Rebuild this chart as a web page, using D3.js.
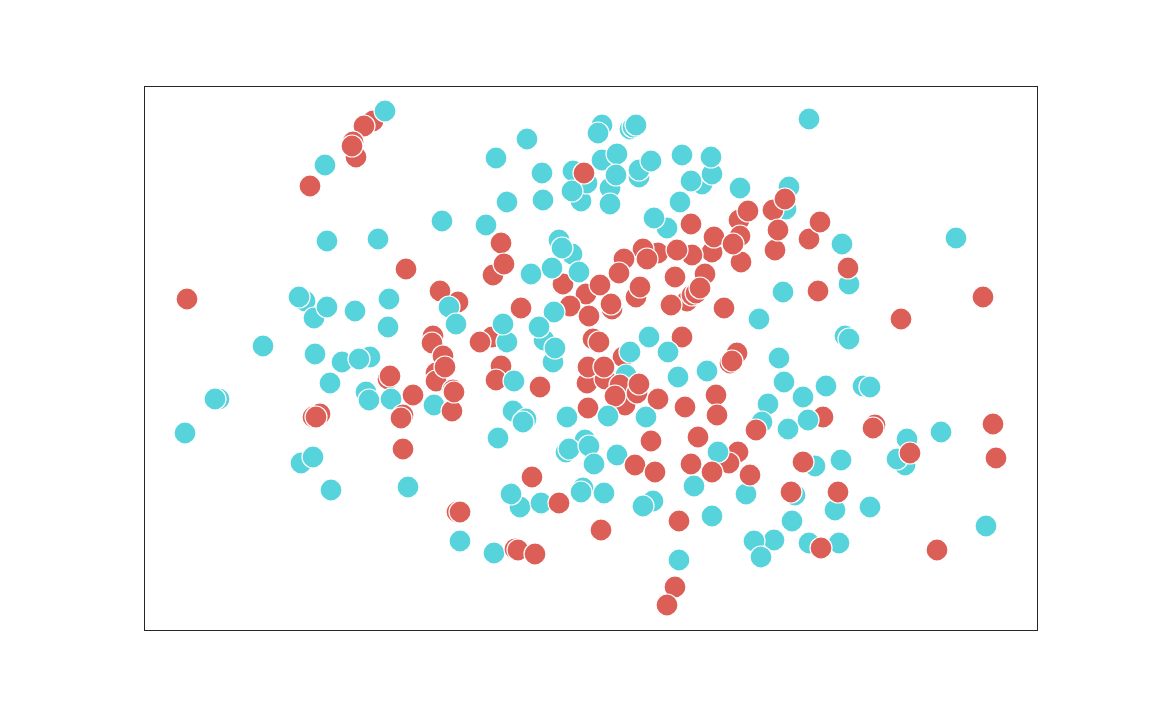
<!DOCTYPE html>
<html>
<head>
<meta charset="utf-8">
<script src="https://cdn.jsdelivr.net/npm/d3@7"></script>
<style>
  body { margin: 0; background: #fff; }
</style>
</head>
<body>
<div class="ScatterGraph"></div>
<script>
// in drawing order (later points sit on top)
const xValues = [
  22.9, 24.1, 22.0, 21.2, 20.9, 20.8, 18.1, 16.6, 29.8, 18.3,
  23.4, 26.2, 4.3, 16.1, 17.0, 15.5, 18.3, 21.1, 24.5, 24.4,
  11.9, 31.4, 29.6, 30.5, 31.2, 28.9, 28.8, 29.9, 29.2, 29.2,
  30.1, 30.9, 29.0, 30.8, 31.0, 17.1, 19.8, 22.6, 21.5, 18.6,
  24.4, 24.6, 26.9, 22.2, 22.5, 24.7, 7.5, 7.1, 4.1, 17.6,
  16.9, 17.2, 25.9, 25.7, 25.9, 15.7, 16.9, 18.7, 26.4, 31.3,
  31.6, 31.6, 45.8, 45.4, 48.6, 48.9, 49.2, 38.3, 35.2, 39.8,
  43.7, 44.3, 42.9, 42.8, 44.0, 39.9, 36.3, 45.8, 46.6, 47.3,
  47.2, 46.6, 49.5, 49.5, 50.7, 53.8, 55.8, 56.8, 56.7, 54.7,
  53.6, 59.6, 52.3, 51.0, 54.7, 59.5, 60.4, 59.7, 59.6, 56.8,
  57.0, 58.9, 54.8, 51.4, 49.9, 50.3, 53.3, 48.0, 47.5, 53.1,
  56.1, 54.3, 54.8, 55.2, 55.6, 52.7, 58.0, 61.5, 49.2, 49.6,
  46.8, 46.7, 41.9, 44.2, 45.6, 42.6, 44.5, 37.7, 34.2, 34.9,
  35.7, 36.0, 41.5, 42.8, 41.8, 40.8, 43.5, 38.7, 41.0, 34.8,
  33.6, 36.3, 35.9, 40.0, 39.5, 40.9, 41.1, 35.7, 35.2, 37.0,
  39.6, 44.9, 45.5, 47.9, 48.6, 50.5, 53.8, 52.4, 53.4, 56.3,
  59.3, 58.6, 58.8, 48.2, 44.3, 46.1, 44.4, 46.0, 48.1, 47.6,
  49.3, 49.5, 47.1, 51.4, 54.1, 57.2, 57.3, 44.4, 46.4, 50.2,
  42.3, 36.9, 38.2, 37.9, 35.4, 50.7, 55.4, 54.7, 59.4, 58.5,
  57.4, 56.8, 60.2, 62.4, 61.8, 61.2, 64.4, 67.9, 66.4, 73.1,
  72.9, 76.3, 79.7, 84.9, 85.2, 76.1, 75.3, 76.6, 67.1, 65.9,
  69.7, 60.6, 65.1, 64.7, 69.1, 69.4, 72.6, 64.8, 84.2, 79.3,
  63.0, 61.0, 61.7, 66.5, 69.5, 67.7, 44.1, 42.2, 42.5, 44.5,
  45.0, 47.3, 49.1, 51.1, 38.8, 37.6, 36.7, 39.7, 41.5, 43.9,
  43.7, 46.0, 55.0, 50.9, 49.9, 53.5, 56.8, 45.7, 35.0, 37.1,
  37.4, 39.1, 53.5, 53.1, 52.3, 66.5, 64.5, 64.2, 62.9, 64.1,
  63.1, 63.4, 66.5, 67.6, 69.8, 70.5, 70.4, 63.9, 67.4, 81.2,
  83.9, 75.7, 70.1, 70.5, 63.5, 64.0, 68.2, 65.9, 71.9, 72.6
];
const yValues = [
  50.9, 51.9, 50.4, 47.3, 48.8, 48.4, 46.5, 44.4, 40.9, 38.9,
  39.1, 36.1, 33.1, 32.9, 31.2, 33.3, 32.3, 31.9, 33.1, 30.3,
  28.4, 32.8, 33.9, 32.3, 30.6, 29.4, 28.7, 27.4, 25.7, 24.9,
  26.3, 24.0, 22.5, 21.9, 23.8, 27.6, 26.8, 27.3, 27.1, 24.7,
  25.1, 25.4, 23.5, 23.8, 23.0, 23.1, 23.1, 23.1, 19.7, 21.6,
  21.3, 21.3, 21.5, 21.2, 18.1, 16.7, 17.3, 14.0, 14.3, 11.8,
  11.8, 8.9, 50.5, 49.7, 50.1, 50.3, 50.5, 49.1, 47.2, 45.7,
  42.9, 44.7, 45.9, 43.9, 45.7, 43.0, 42.8, 47.0, 44.2, 47.6,
  45.5, 42.6, 45.3, 46.0, 46.9, 47.5, 44.6, 45.6, 47.3, 44.9,
  42.8, 44.2, 40.2, 41.2, 40.6, 41.0, 41.9, 36.8, 39.4, 37.8,
  39.3, 38.6, 37.5, 37.7, 38.1, 37.1, 38.0, 37.1, 35.7, 35.3,
  35.6, 32.9, 33.5, 33.7, 34.2, 32.5, 32.2, 31.1, 33.3, 34.3,
  32.1, 32.6, 34.6, 33.6, 34.5, 32.4, 31.4, 32.2, 40.5, 35.5,
  38.7, 36.6, 39.0, 37.6, 38.2, 36.2, 35.8, 35.6, 31.8, 29.3,
  28.8, 28.8, 30.6, 29.0, 30.3, 26.8, 28.2, 26.4, 25.0, 24.9,
  24.3, 29.1, 28.8, 27.3, 27.8, 29.3, 29.3, 27.8, 25.3, 25.9,
  27.7, 26.7, 26.9, 25.5, 24.7, 25.1, 26.3, 26.3, 22.5, 24.5,
  23.7, 24.6, 23.4, 23.1, 22.3, 23.5, 21.5, 22.2, 21.4, 21.3,
  21.3, 21.9, 21.1, 20.8, 19.2, 18.9, 19.3, 16.6, 17.8, 16.7,
  17.8, 15.8, 13.6, 22.6, 20.8, 20.0, 20.1, 21.3, 21.0, 20.5,
  20.2, 19.1, 19.8, 20.6, 17.2, 16.5, 17.1, 17.7, 16.4, 16.8,
  17.0, 15.5, 13.5, 13.8, 12.0, 13.8, 12.3, 10.9, 10.4, 8.0,
  9.0, 8.9, 7.3, 8.7, 8.7, 8.2, 19.0, 17.8, 18.1, 18.4,
  16.6, 17.5, 16.5, 15.8, 15.3, 12.3, 13.6, 12.7, 12.7, 14.2,
  13.8, 13.7, 14.4, 12.9, 12.4, 10.9, 11.4, 10.0, 7.7, 8.1,
  8.0, 7.6, 7.0, 4.3, 2.5, 51.1, 44.3, 42.1, 42.0, 43.1,
  38.0, 40.0, 39.1, 40.8, 38.6, 34.6, 36.2, 33.8, 33.9, 39.2,
  33.3, 31.1, 29.4, 29.1, 27.2, 24.8, 24.4, 23.3, 24.4, 24.3
];
const hueValues = [
  0, 1, 0, 0, 0, 0, 1, 0, 1, 1,
  1, 0, 0, 1, 1, 1, 1, 1, 1, 1,
  1, 0, 0, 1, 1, 0, 0, 0, 0, 0,
  0, 0, 1, 0, 0, 1, 1, 1, 1, 1,
  0, 0, 0, 1, 1, 1, 1, 1, 1, 0,
  0, 0, 0, 0, 0, 1, 1, 1, 1, 0,
  0, 1, 1, 1, 1, 1, 1, 1, 1, 1,
  1, 1, 1, 1, 0, 1, 1, 1, 1, 1,
  1, 1, 1, 1, 1, 1, 1, 1, 1, 1,
  1, 1, 1, 1, 0, 0, 0, 0, 0, 0,
  0, 0, 0, 0, 0, 0, 0, 0, 0, 0,
  0, 0, 0, 0, 0, 0, 0, 1, 0, 0,
  0, 0, 0, 0, 0, 0, 0, 0, 1, 0,
  0, 0, 1, 1, 1, 1, 1, 1, 1, 0,
  0, 1, 1, 1, 1, 1, 1, 0, 0, 1,
  0, 0, 0, 0, 1, 1, 0, 1, 1, 1,
  0, 0, 0, 1, 0, 0, 0, 0, 0, 0,
  0, 0, 0, 0, 0, 0, 0, 0, 1, 1,
  1, 1, 1, 1, 1, 0, 0, 0, 0, 0,
  1, 0, 1, 1, 1, 0, 1, 0, 1, 0,
  0, 1, 1, 0, 0, 1, 1, 0, 1, 0,
  1, 0, 1, 0, 1, 0, 1, 1, 1, 0,
  1, 1, 1, 1, 1, 0, 1, 1, 1, 1,
  1, 1, 0, 0, 0, 1, 1, 1, 0, 1,
  1, 1, 1, 1, 1, 0, 1, 0, 1, 0,
  0, 0, 1, 0, 0, 1, 1, 1, 0, 0,
  0, 0, 0, 0, 1, 1, 0, 1, 0, 1,
  0, 0, 1, 1, 1, 1, 1, 1, 1, 1
];
const hueColors = ["#db5f57", "#57d3db"];

let margin = {top: 86.5, right: 114.5, bottom: 89.5, left: 144.5},
    width = 1152 - margin.left - margin.right,
    height = 720 - margin.top - margin.bottom;

let svg = d3.select(".ScatterGraph")
  .append("svg")
  .attr("width", 1152)
  .attr("height", 720)
  .style("display", "block")
  .append("g")
  .attr("transform", "translate(" + margin.left + "," + margin.top + ")");

// frame sits on the pixel centre, the points don't, hence the half pixel
let x = d3.scaleLinear().domain([0, 89.3]).range([-0.5, width - 0.5]);
let y = d3.scaleLinear().domain([0, 54.4]).range([height - 0.5, -0.5]);
let color = d3.scaleOrdinal().domain([0, 1]).range(hueColors);

// points
svg.append("g")
  .selectAll("circle")
  .data(xValues)
  .join("circle")
  .attr("cx", d => x(d))
  .attr("cy", (d, i) => y(yValues[i]))
  .attr("r", 11)
  .attr("fill", (d, i) => color(hueValues[i]))
  .attr("stroke", "white")
  .attr("stroke-width", 1.2);

// axes frame, no ticks in this one
svg.append("rect")
  .attr("width", width)
  .attr("height", height)
  .attr("fill", "none")
  .attr("stroke", "#262626")
  .attr("stroke-width", 1);
</script>
</body>
</html>
